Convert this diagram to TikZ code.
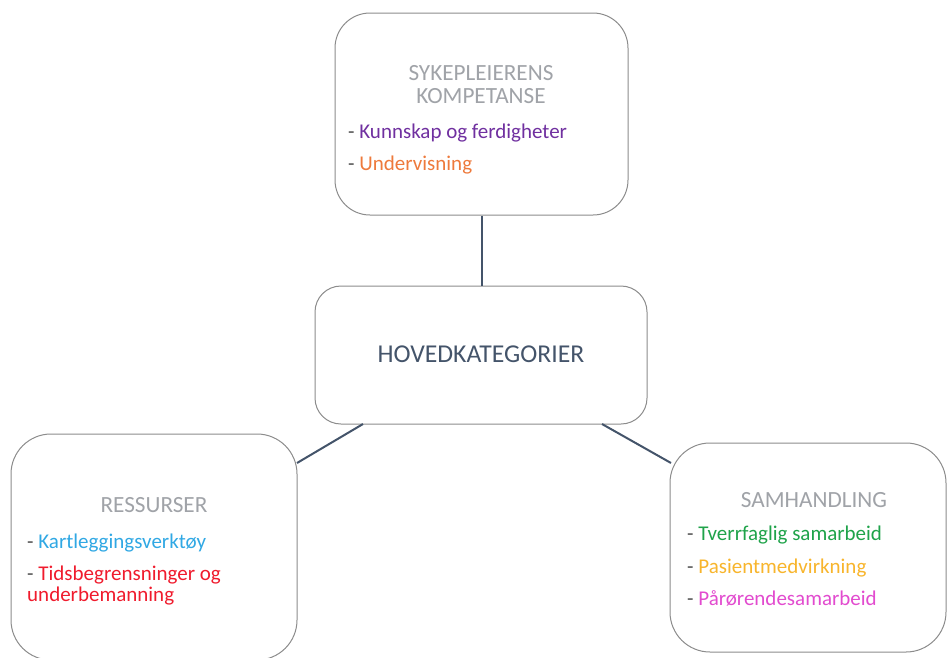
\documentclass[tikz,border=0pt]{standalone}
\usepackage{fontspec}
\setmainfont{Carlito}
\definecolor{titlegray}{HTML}{A0A3A8}
\definecolor{slate}{HTML}{44546A}
\definecolor{boxgray}{HTML}{8C8C8C}
\definecolor{dashgray}{HTML}{505050}
\definecolor{cpurple}{HTML}{7030A0}
\definecolor{corange}{HTML}{EE7A3C}
\definecolor{cblue}{HTML}{30A8E4}
\definecolor{cred}{HTML}{F01B2D}
\definecolor{cgreen}{HTML}{1FA34A}
\definecolor{cyellow}{HTML}{F8B52C}
\definecolor{cpink}{HTML}{E24BCF}
\tikzset{
  box/.style={draw=boxgray, line width=1pt, fill=white, rounded corners=#1},
  box/.default=35pt,
  conn/.style={draw=slate, line width=2pt},
  title/.style={text=titlegray, font=\fontsize{23.2}{25}\selectfont, inner sep=0pt, anchor=base},
  main/.style={text=slate, font=\fontsize{25.7}{28}\selectfont, inner sep=0pt, anchor=base},
  item/.style={font=\fontsize{21}{22}\selectfont, inner sep=0pt, anchor=base west},
}
\newcommand{\dashitem}[2]{\textcolor{dashgray}{-} \textcolor{#1}{#2}}
\begin{document}
\begin{tikzpicture}[x=1pt, y=-1pt]
\useasboundingbox (0,0) rectangle (948,657);
% boxes
\node[box=35pt, minimum width=293pt, minimum height=202pt] (top) at (481.5,114) {};
\node[box=26pt, minimum width=332pt, minimum height=138pt] (mid) at (481,355) {};
\node[box=40pt, minimum width=286pt, minimum height=226pt] (left) at (154,547) {};
\node[box=40pt, minimum width=276pt, minimum height=209pt] (right) at (808,547.5) {};
% connectors
\coordinate (mtop) at (481.5,286);
\coordinate (mbl) at (363,424);
\coordinate (mbr) at (602,424);
\coordinate (lend) at (297,463);
\coordinate (rend) at (671,463);
\draw[conn] (top.south) -- (mtop);
\draw[conn] (mbl) -- (lend);
\draw[conn] (mbr) -- (rend);
% top box text
\node[title] (t1) at (481,80) {SYKEPLEIERENS};
\node[title] (t2) at (481,103) {KOMPETANSE};
\node[item] (t3) at (348,138) {\dashitem{cpurple}{Kunnskap og ferdigheter}};
\node[item] (t4) at (348,170) {\dashitem{corange}{Undervisning}};
% middle
\node[main] (m1) at (481,362) {HOVEDKATEGORIER};
% left box text
\node[title] (l1) at (154,512) {RESSURSER};
\node[item] (l2) at (27,548) {\dashitem{cblue}{Kartleggingsverktøy}};
\node[item] (l3) at (27,580) {\dashitem{cred}{Tidsbegrensninger og}};
\node[item] (l4) at (27,601) {\textcolor{cred}{underbemanning}};
% right box text
\node[title] (r1) at (814,507) {SAMHANDLING};
\node[item] (r2) at (687,540) {\dashitem{cgreen}{Tverrfaglig samarbeid}};
\node[item] (r3) at (687,573) {\dashitem{cyellow}{Pasientmedvirkning}};
\node[item] (r4) at (687,605) {\dashitem{cpink}{Pårørendesamarbeid}};
\end{tikzpicture}
\end{document}
